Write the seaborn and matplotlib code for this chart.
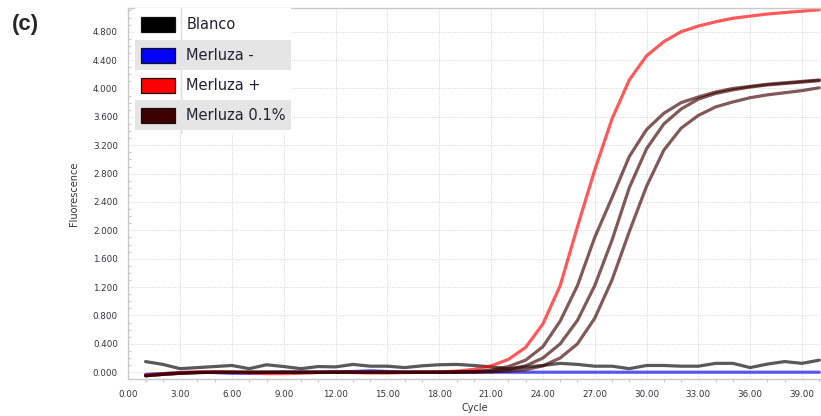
import matplotlib
matplotlib.use("Agg")
import matplotlib.pyplot as plt
from matplotlib.patches import Rectangle
from matplotlib.ticker import MultipleLocator, FormatStrFormatter
import seaborn as sns
import pandas as pd

# qPCR amplification curves
cycles = list(range(1, 41))

blanco = [0.15, 0.11, 0.05, 0.065, 0.08, 0.095, 0.05, 0.105, 0.08, 0.05,
          0.08, 0.075, 0.11, 0.085, 0.085, 0.065, 0.09, 0.105, 0.11, 0.095,
          0.075, 0.05, 0.075, 0.095, 0.125, 0.11, 0.085, 0.085, 0.05, 0.095,
          0.095, 0.085, 0.085, 0.125, 0.125, 0.065, 0.115, 0.15, 0.125, 0.17]

merluza_neg = [-0.03, -0.02, -0.005, 0.0, -0.005, -0.015, -0.015, -0.005, 0.0, 0.0,
               0.0, 0.005, 0.01, 0.02, 0.01, 0.0, 0.0, 0.0, 0.0, 0.0,
               0.0, 0.0, 0.0, 0.0, 0.0, 0.0, 0.0, 0.0, 0.0, 0.0,
               0.0, 0.0, 0.0, 0.0, 0.0, 0.0, 0.0, 0.0, 0.0, 0.0]

merluza_pos = [-0.04, -0.02, -0.005, 0.005, 0.005, 0.0, -0.01, -0.02, -0.02, -0.015,
               -0.005, 0.0, -0.005, -0.01, -0.01, -0.005, 0.0, 0.005, 0.015, 0.04,
               0.09, 0.18, 0.35, 0.68, 1.22, 2.05, 2.85, 3.57, 4.12, 4.46,
               4.66, 4.80, 4.88, 4.94, 4.99, 5.02, 5.05, 5.07, 5.09, 5.11]

merluza_01_a = [-0.05, -0.03, -0.015, -0.005, 0.0, 0.0, 0.0, 0.0, 0.0, 0.0,
                0.0, 0.0, 0.0, 0.0, 0.0, 0.0, 0.0, 0.0, 0.005, 0.01,
                0.03, 0.08, 0.17, 0.36, 0.72, 1.22, 1.90, 2.46, 3.04, 3.42,
                3.65, 3.80, 3.88, 3.95, 4.00, 4.03, 4.06, 4.08, 4.10, 4.12]

merluza_01_b = [-0.05, -0.03, -0.015, -0.005, 0.0, 0.0, 0.0, 0.0, 0.0, 0.0,
                0.0, 0.0, 0.0, 0.0, 0.0, 0.0, 0.0, 0.0, 0.0, 0.005,
                0.015, 0.04, 0.09, 0.20, 0.40, 0.73, 1.22, 1.86, 2.60, 3.15,
                3.50, 3.71, 3.85, 3.93, 3.98, 4.02, 4.05, 4.07, 4.09, 4.11]

merluza_01_c = [-0.05, -0.03, -0.015, -0.005, 0.0, 0.0, 0.0, 0.0, 0.0, 0.0,
                0.0, 0.0, 0.0, 0.0, 0.0, 0.0, 0.0, 0.0, 0.0, 0.0,
                0.005, 0.015, 0.035, 0.09, 0.20, 0.40, 0.76, 1.30, 1.98, 2.62,
                3.13, 3.44, 3.62, 3.74, 3.81, 3.87, 3.91, 3.94, 3.97, 4.01]

samples = ["Blanco", "Merluza -", "Merluza +", "Merluza 0.1%"]
colors = ["#000000", "#0000ff", "#ff0000", "#3d0000"]

series = [("Blanco", "b1", blanco),
          ("Merluza -", "n1", merluza_neg),
          ("Merluza +", "p1", merluza_pos),
          ("Merluza 0.1%", "m1", merluza_01_a),
          ("Merluza 0.1%", "m2", merluza_01_b),
          ("Merluza 0.1%", "m3", merluza_01_c)]

rows = []
for name, rep, vals in series:
    for c, v in zip(cycles, vals):
        rows.append({"Cycle": c, "Fluorescence": v, "Muestra": name, "Replica": rep})
df = pd.DataFrame(rows)

sns.set_theme(style="white")
plt.rcParams["font.family"] = ["DejaVu Sans"]

fig = plt.figure(figsize=(8.21, 4.16), dpi=100)
ax = fig.add_axes([0.1563, 0.0882, 0.8437, 0.8918])

sns.lineplot(data=df, x="Cycle", y="Fluorescence", hue="Muestra", units="Replica",
             estimator=None, hue_order=samples, palette=dict(zip(samples, colors)),
             alpha=0.65, linewidth=2.3, legend=False, ax=ax)

ax.set_xlim(0, 40.1)
ax.set_ylim(-0.1, 5.13)

ax.xaxis.set_major_locator(MultipleLocator(3))
ax.xaxis.set_minor_locator(MultipleLocator(1))
ax.xaxis.set_major_formatter(FormatStrFormatter("%.2f"))
ax.yaxis.set_major_locator(MultipleLocator(0.4))
ax.yaxis.set_minor_locator(MultipleLocator(0.1))
ax.yaxis.set_major_formatter(FormatStrFormatter("%.3f"))

grid_col = "#d4d4d4"
spine_col = "#c8c8c8"
ax.grid(True, which="major", color=grid_col, linestyle=(0, (1, 1.4)), linewidth=0.7)
ax.tick_params(axis="both", which="major", length=4.5, width=0.8, color=grid_col,
               labelsize=6.3, labelcolor="#333340", pad=3, direction="out")
ax.tick_params(axis="x", which="minor", bottom=True, length=2.2, width=0.8,
               color=spine_col, direction="out")
ax.tick_params(axis="y", which="minor", left=True, length=2.2, width=0.8,
               color=spine_col, direction="in")

for side in ["left", "bottom", "top"]:
    ax.spines[side].set_color(spine_col)
    ax.spines[side].set_linewidth(1)
ax.spines["right"].set_visible(False)

ax.set_xlabel("Cycle", fontsize=7, color="#333340", labelpad=3)
ax.set_ylabel("Fluorescence", fontsize=7, color="#333340", labelpad=10)

# legend drawn as a small table of rows
ax.add_patch(Rectangle((0.0092, 0.664), 0.2261, 0.336, transform=ax.transAxes,
                       facecolor="white", edgecolor="none", zorder=5))
ax.plot([0.0765, 0.0765], [0.664, 1.0], transform=ax.transAxes,
        color="#dcdcdc", linewidth=1, zorder=5.5)
row_y = [0.9555, 0.8741, 0.7927, 0.7119]
row_h = 0.0811
for i, (name, col) in enumerate(zip(samples, colors)):
    if i % 2 == 1:
        ax.add_patch(Rectangle((0.0092, row_y[i] - row_h / 2), 0.2261, row_h,
                               transform=ax.transAxes, facecolor="#e5e5e5",
                               edgecolor="none", zorder=6))
    ax.add_patch(Rectangle((0.0179, row_y[i] - 0.0202), 0.0491, 0.0404,
                           transform=ax.transAxes, facecolor=col,
                           edgecolor="#111111", linewidth=0.9, zorder=7))
    ax.text(0.0837, row_y[i], name, transform=ax.transAxes, fontsize=10.5,
            color="#222233", va="center", ha="left", zorder=7)

fig.text(0.0143, 0.942, "(c)", fontsize=16, fontweight="bold",
         family=["Liberation Sans", "DejaVu Sans"], va="center", ha="left")

fig.savefig("out.png", dpi=100)
